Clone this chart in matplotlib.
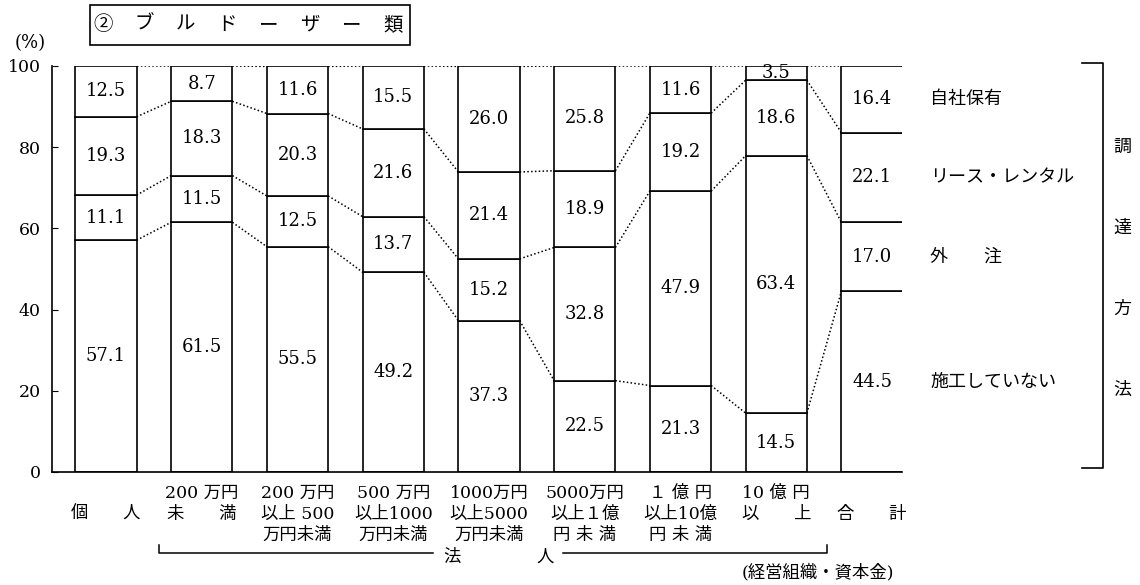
import numpy as np
import matplotlib.pyplot as plt
from matplotlib.lines import Line2D
from matplotlib.patches import Rectangle
import matplotlib.transforms as mtransforms

plt.rcParams['font.family'] = ['DejaVu Serif', 'Noto Sans CJK JP']

# データ (%)：下から 施工していない / 外注 / リース・レンタル / 自社保有
categories = ["\n個　　人", "200 万円\n未　　満", "200 万円\n以上 500\n万円未満",
              "500 万円\n以上1000\n万円未満", "1000万円\n以上5000\n万円未満",
              "5000万円\n以上１億\n円 未 満", "１ 億 円\n以上10億\n円 未 満",
              "10 億 円\n以　　上", "\n合　　計"]
not_done = [57.1, 61.5, 55.5, 49.2, 37.3, 22.5, 21.3, 14.5, 44.5]
outsourced = [11.1, 11.5, 12.5, 13.7, 15.2, 32.8, 47.9, 63.4, 17.0]
lease = [19.3, 18.3, 20.3, 21.6, 21.4, 18.9, 19.2, 18.6, 22.1]
own = [12.5, 8.7, 11.6, 15.5, 26.0, 25.8, 11.6, 3.5, 16.4]
series_names = ['施工していない', '外　　注', 'リース・レンタル', '自社保有']
yticks = [0, 20, 40, 60, 80, 100]
title_chars = ['②', 'ブ', 'ル', 'ド', 'ー', 'ザ', 'ー', '類']
side_title = ['調', '達', '方', '法']

W, H = 1140, 585
fig = plt.figure(figsize=(W / 100, H / 100), dpi=100)
ax = fig.add_axes([52 / W, 113 / H, 850 / W, 406 / H])

x = np.arange(len(categories))
width = 0.64
series = [not_done, outsourced, lease, own]

bottom = np.zeros(len(categories))
levels = [bottom.copy()]
for vals in series:
    vals = np.array(vals)
    ax.bar(x, vals, width=width, bottom=bottom, color='white',
           edgecolor='black', linewidth=1.2, zorder=2)
    for i, v in enumerate(vals):
        ax.text(x[i], bottom[i] + v / 2, f'{v:.1f}', ha='center', va='center',
                fontsize=13, zorder=3)
    bottom = bottom + vals
    levels.append(bottom.copy())

# 点線の連結線
for lev in levels[1:]:
    for i in range(len(x) - 1):
        ax.plot([x[i] + width / 2, x[i + 1] - width / 2], [lev[i], lev[i + 1]],
                ls=(0, (1, 1.5)), color='black', lw=1.1, zorder=1)

ax.set_xlim(-0.564, 8.313)
ax.set_ylim(0, 100)
ax.spines['top'].set_visible(False)
ax.spines['right'].set_visible(False)
ax.spines['left'].set_linewidth(1.2)
ax.spines['bottom'].set_linewidth(1.2)
ax.set_yticks(yticks)
ax.tick_params(axis='y', direction='in', length=4, labelsize=12.5, pad=8)
ax.set_xticks([])

# 横軸カテゴリ
for i, lab in enumerate(categories):
    ax.annotate(lab, xy=(x[i], 0), xycoords=('data', 'axes fraction'),
                xytext=(0, -9), textcoords='offset points', ha='center', va='top',
                fontsize=12.5, linespacing=1.33, annotation_clip=False)

# 凡例（右側）
tr = mtransforms.blended_transform_factory(fig.transFigure, ax.transData)
for k, name in enumerate(series_names):
    yc = levels[k][-1] + series[k][-1] / 2
    ax.text(930 / W, yc, name, transform=tr, ha='left', va='center', fontsize=13)

# 右の括弧と「調達方法」
fig.add_artist(Line2D(np.array([1082, 1103, 1103, 1082]) / W,
                      1 - np.array([63, 63, 468, 468]) / H, color='black', lw=1.2))
for ch, yy in zip(side_title, np.linspace(147, 390, len(side_title))):
    fig.text(1122 / W, 1 - yy / H, ch, ha='center', va='center', fontsize=13)

# タイトル枠
fig.add_artist(Rectangle((90 / W, 1 - 45 / H), 320 / W, 40 / H, transform=fig.transFigure,
                         fill=False, edgecolor='black', lw=1.2))
for ch, xx in zip(title_chars, np.linspace(103, 393, len(title_chars))):
    fig.text(xx / W, 1 - 25 / H, ch, ha='center', va='center', fontsize=14)

fig.text(30 / W, 1 - 43 / H, '(%)', ha='center', va='center', fontsize=13)

# 法人の括弧
fig.add_artist(Line2D(np.array([159, 159, 433]) / W, 1 - np.array([545, 553, 553]) / H,
                      color='black', lw=1.1))
fig.add_artist(Line2D(np.array([563, 827, 827]) / W, 1 - np.array([553, 553, 545]) / H,
                      color='black', lw=1.1))
fig.text(452 / W, 1 - 557 / H, '法', ha='center', va='center', fontsize=12.5)
fig.text(545 / W, 1 - 557 / H, '人', ha='center', va='center', fontsize=12.5)
fig.text(818 / W, 1 - 573 / H, '(経営組織・資本金)', ha='center', va='center', fontsize=12.5)

plt.savefig('out.png', dpi=100)
